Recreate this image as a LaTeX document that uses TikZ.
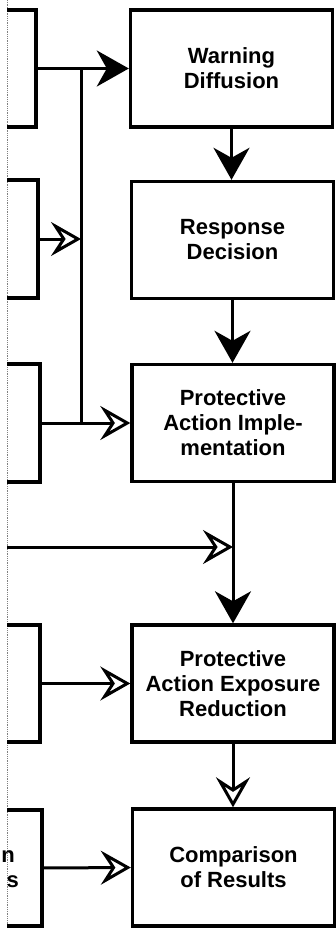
\documentclass[tikz,border=0pt]{standalone}
\usepackage{fontspec}
\setmainfont{Liberation Sans}
\usetikzlibrary{arrows.meta}
\begin{document}
\begin{tikzpicture}[x=1pt,y=-1pt,
  rbox/.style={draw, line width=3.4pt, minimum width=202pt, minimum height=117pt, inner sep=0pt, align=center, font=\fontsize{22}{25}\selectfont\bfseries},
  lbox/.style={inner sep=0pt, outer sep=0pt},
  ltext/.style={inner sep=0pt, anchor=base east, font=\fontsize{22}{25}\selectfont\bfseries},
  conn/.style={line width=3pt},
  fillhead/.style={-{Stealth[length=32pt,width=36pt,inset=10pt]}},
  openhead/.style={-{Stealth[open,length=30pt,width=34pt,inset=11pt,line width=3pt]}},
  side/.style={line width=3.4pt, line join=miter},
  edge/.style={line width=0.8pt, gray, densely dotted},
  ]
\useasboundingbox (0,0) rectangle (336,928);

% left margin (cut-off edge)
\coordinate (edgeTop) at (7,0);
\coordinate (edgeBot) at (7,928);
\draw[edge] (edgeTop) -- (edgeBot);

% left (cut-off) boxes
\node[lbox, minimum width=29pt, minimum height=117pt] (L1) at (21.5,68.5) {};
\node[lbox, minimum width=31pt, minimum height=118pt] (L2) at (22.5,239) {};
\node[lbox, minimum width=33pt, minimum height=118pt] (L3) at (23.5,423) {};
\node[lbox, minimum width=33pt, minimum height=117pt] (L4) at (23.5,683.5) {};
\node[lbox, minimum width=35pt, minimum height=116pt] (L5) at (24.5,868) {};
\foreach \b in {L1,L2,L3,L4,L5}{
  \draw[side] (\b.north west) -- (\b.north east) -- (\b.south east) -- (\b.south west);
}
\node[ltext] (t5a) at (15,862) {n};
\node[ltext] (t5b) at (19,887) {s};

% right boxes
\node[rbox] (WD)   at (231.5,68.5) {Warning\\Diffusion};
\node[rbox] (RD)   at (232.5,240)  {Response\\Decision};
\node[rbox] (PAI)  at (233,423)    {Protective\\Action Imple-\\mentation};
\node[rbox] (PAER) at (233,683.5)  {Protective\\Action Exposure\\Reduction};
\node[rbox] (CoR)  at (233.5,867.5){Comparison\\of Results};

% junction coordinates
\coordinate (Ja) at (81,68.5);
\coordinate (Jb) at (81,423);
\coordinate (S4) at (7,547);

% connectors from left
\draw[conn, fillhead] (L1.east) -- (WD.west);
\draw[conn] (Ja) -- (Jb);
\draw[conn, openhead] (L2.east) -- (L2.east -| Ja);
\draw[conn, openhead] (L3.east) -- (PAI.west);
\draw[conn, openhead] (S4) -- (S4 -| PAI.south);
\draw[conn, openhead] (L4.east) -- (PAER.west);
\draw[conn, openhead] (L5.east) -- (CoR.west);

% vertical chain
\draw[conn, fillhead] (WD.south) -- (WD.south |- RD.north);
\draw[conn, fillhead] (RD.south) -- (RD.south |- PAI.north);
\draw[conn, fillhead] (PAI.south) -- (PAI.south |- PAER.north);
\draw[conn, openhead] (PAER.south) -- (PAER.south |- CoR.north);
\end{tikzpicture}
\end{document}
